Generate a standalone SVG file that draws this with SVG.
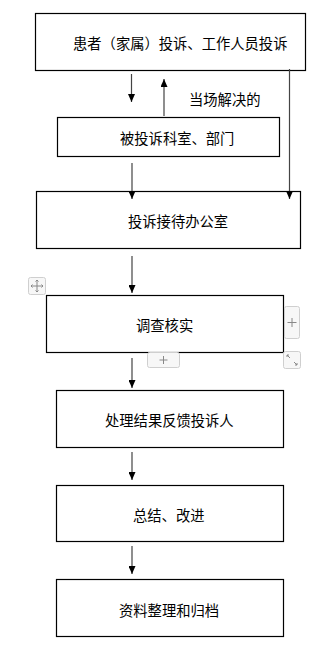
<svg xmlns="http://www.w3.org/2000/svg" width="334" height="646" viewBox="0 0 334 646">
<defs>
<marker id="ah" markerWidth="8" markerHeight="7" refX="8" refY="3.5" orient="auto" markerUnits="userSpaceOnUse" viewBox="0 0 8 7">
<path d="M0,0 L8,3.5 L0,7 Z" fill="#000"/>
</marker>
</defs>
<style>
.box{fill:#fff;stroke:#000;stroke-width:1.2}
.t{font-family:"Noto Sans CJK SC","Noto Sans",sans-serif;font-size:14.3px;fill:#000;dominant-baseline:central}
.c{stroke:#444;stroke-width:1.2;fill:none}
.ui{fill:#f7f7f7;stroke:#cfcfcf;stroke-width:1}
.uil{stroke:#888;stroke-width:1;fill:none}
</style>
<rect width="334" height="646" fill="#fff"/>
<g id="n1"><rect class="box" x="35.5" y="13.5" width="270" height="57"/><text class="t" x="73" y="42">患者（家属）投诉、工作人员投诉</text></g>
<g id="n2"><rect class="box" x="57.5" y="117.5" width="222" height="39"/><text class="t" x="120" y="137">被投诉科室、部门</text></g>
<g id="n3"><rect class="box" x="36.5" y="191.5" width="264" height="57"/><text class="t" x="128" y="220">投诉接待办公室</text></g>
<g id="n4"><rect class="box" x="46.5" y="295.5" width="237" height="57"/><text class="t" x="136" y="324">调查核实</text></g>
<g id="n5"><rect class="box" x="56.5" y="390.5" width="227" height="57"/><text class="t" x="105" y="419">处理结果反馈投诉人</text></g>
<g id="n6"><rect class="box" x="56.5" y="485.5" width="227" height="56"/><text class="t" x="133" y="514">总结、改进</text></g>
<g id="n7"><rect class="box" x="56.5" y="579.5" width="227" height="57"/><text class="t" x="119" y="609">资料整理和归档</text></g>
<g id="connectors">
<line class="c" x1="131.5" y1="74" x2="131.5" y2="102" marker-end="url(#ah)"/>
<line class="c" x1="164" y1="116" x2="164" y2="79" marker-end="url(#ah)"/>
<line class="c" x1="289.5" y1="69" x2="289.5" y2="199" marker-end="url(#ah)"/>
<line class="c" x1="132" y1="163" x2="132" y2="199" marker-end="url(#ah)"/>
<line class="c" x1="132" y1="256" x2="132" y2="293" marker-end="url(#ah)"/>
<line class="c" x1="132" y1="358" x2="132" y2="388" marker-end="url(#ah)"/>
<line class="c" x1="132" y1="452" x2="132" y2="480" marker-end="url(#ah)"/>
<line class="c" x1="132" y1="546" x2="132" y2="574" marker-end="url(#ah)"/>
<text class="t" x="189" y="98">当场解决的</text>
</g>
<g id="ui">
<rect class="ui" x="28.5" y="277.5" width="17" height="17" rx="2"/>
<path class="uil" d="M37,280 V292 M31,286 H43 M35.5,281.5 L37,280 L38.5,281.5 M35.5,290.5 L37,292 L38.5,290.5 M32.5,284.5 L31,286 L32.5,287.5 M41.5,284.5 L43,286 L41.5,287.5"/>
<rect class="ui" x="284.5" y="306.5" width="15" height="32" rx="2"/>
<path class="uil" d="M292,318 V327 M287.5,322.5 H296.5"/>
<rect class="ui" x="147.5" y="352.5" width="32" height="15" rx="2"/>
<path class="uil" d="M163.5,356 V364 M159.5,360 H167.5"/>
<rect class="ui" x="283.5" y="351.5" width="17" height="17" rx="2"/>
<path class="uil" d="M287,355 L290,358 M287,355 V357 M287,355 H289 M297,365 L294,362 M297,365 V363 M297,365 H295"/>
</g>
</svg>
